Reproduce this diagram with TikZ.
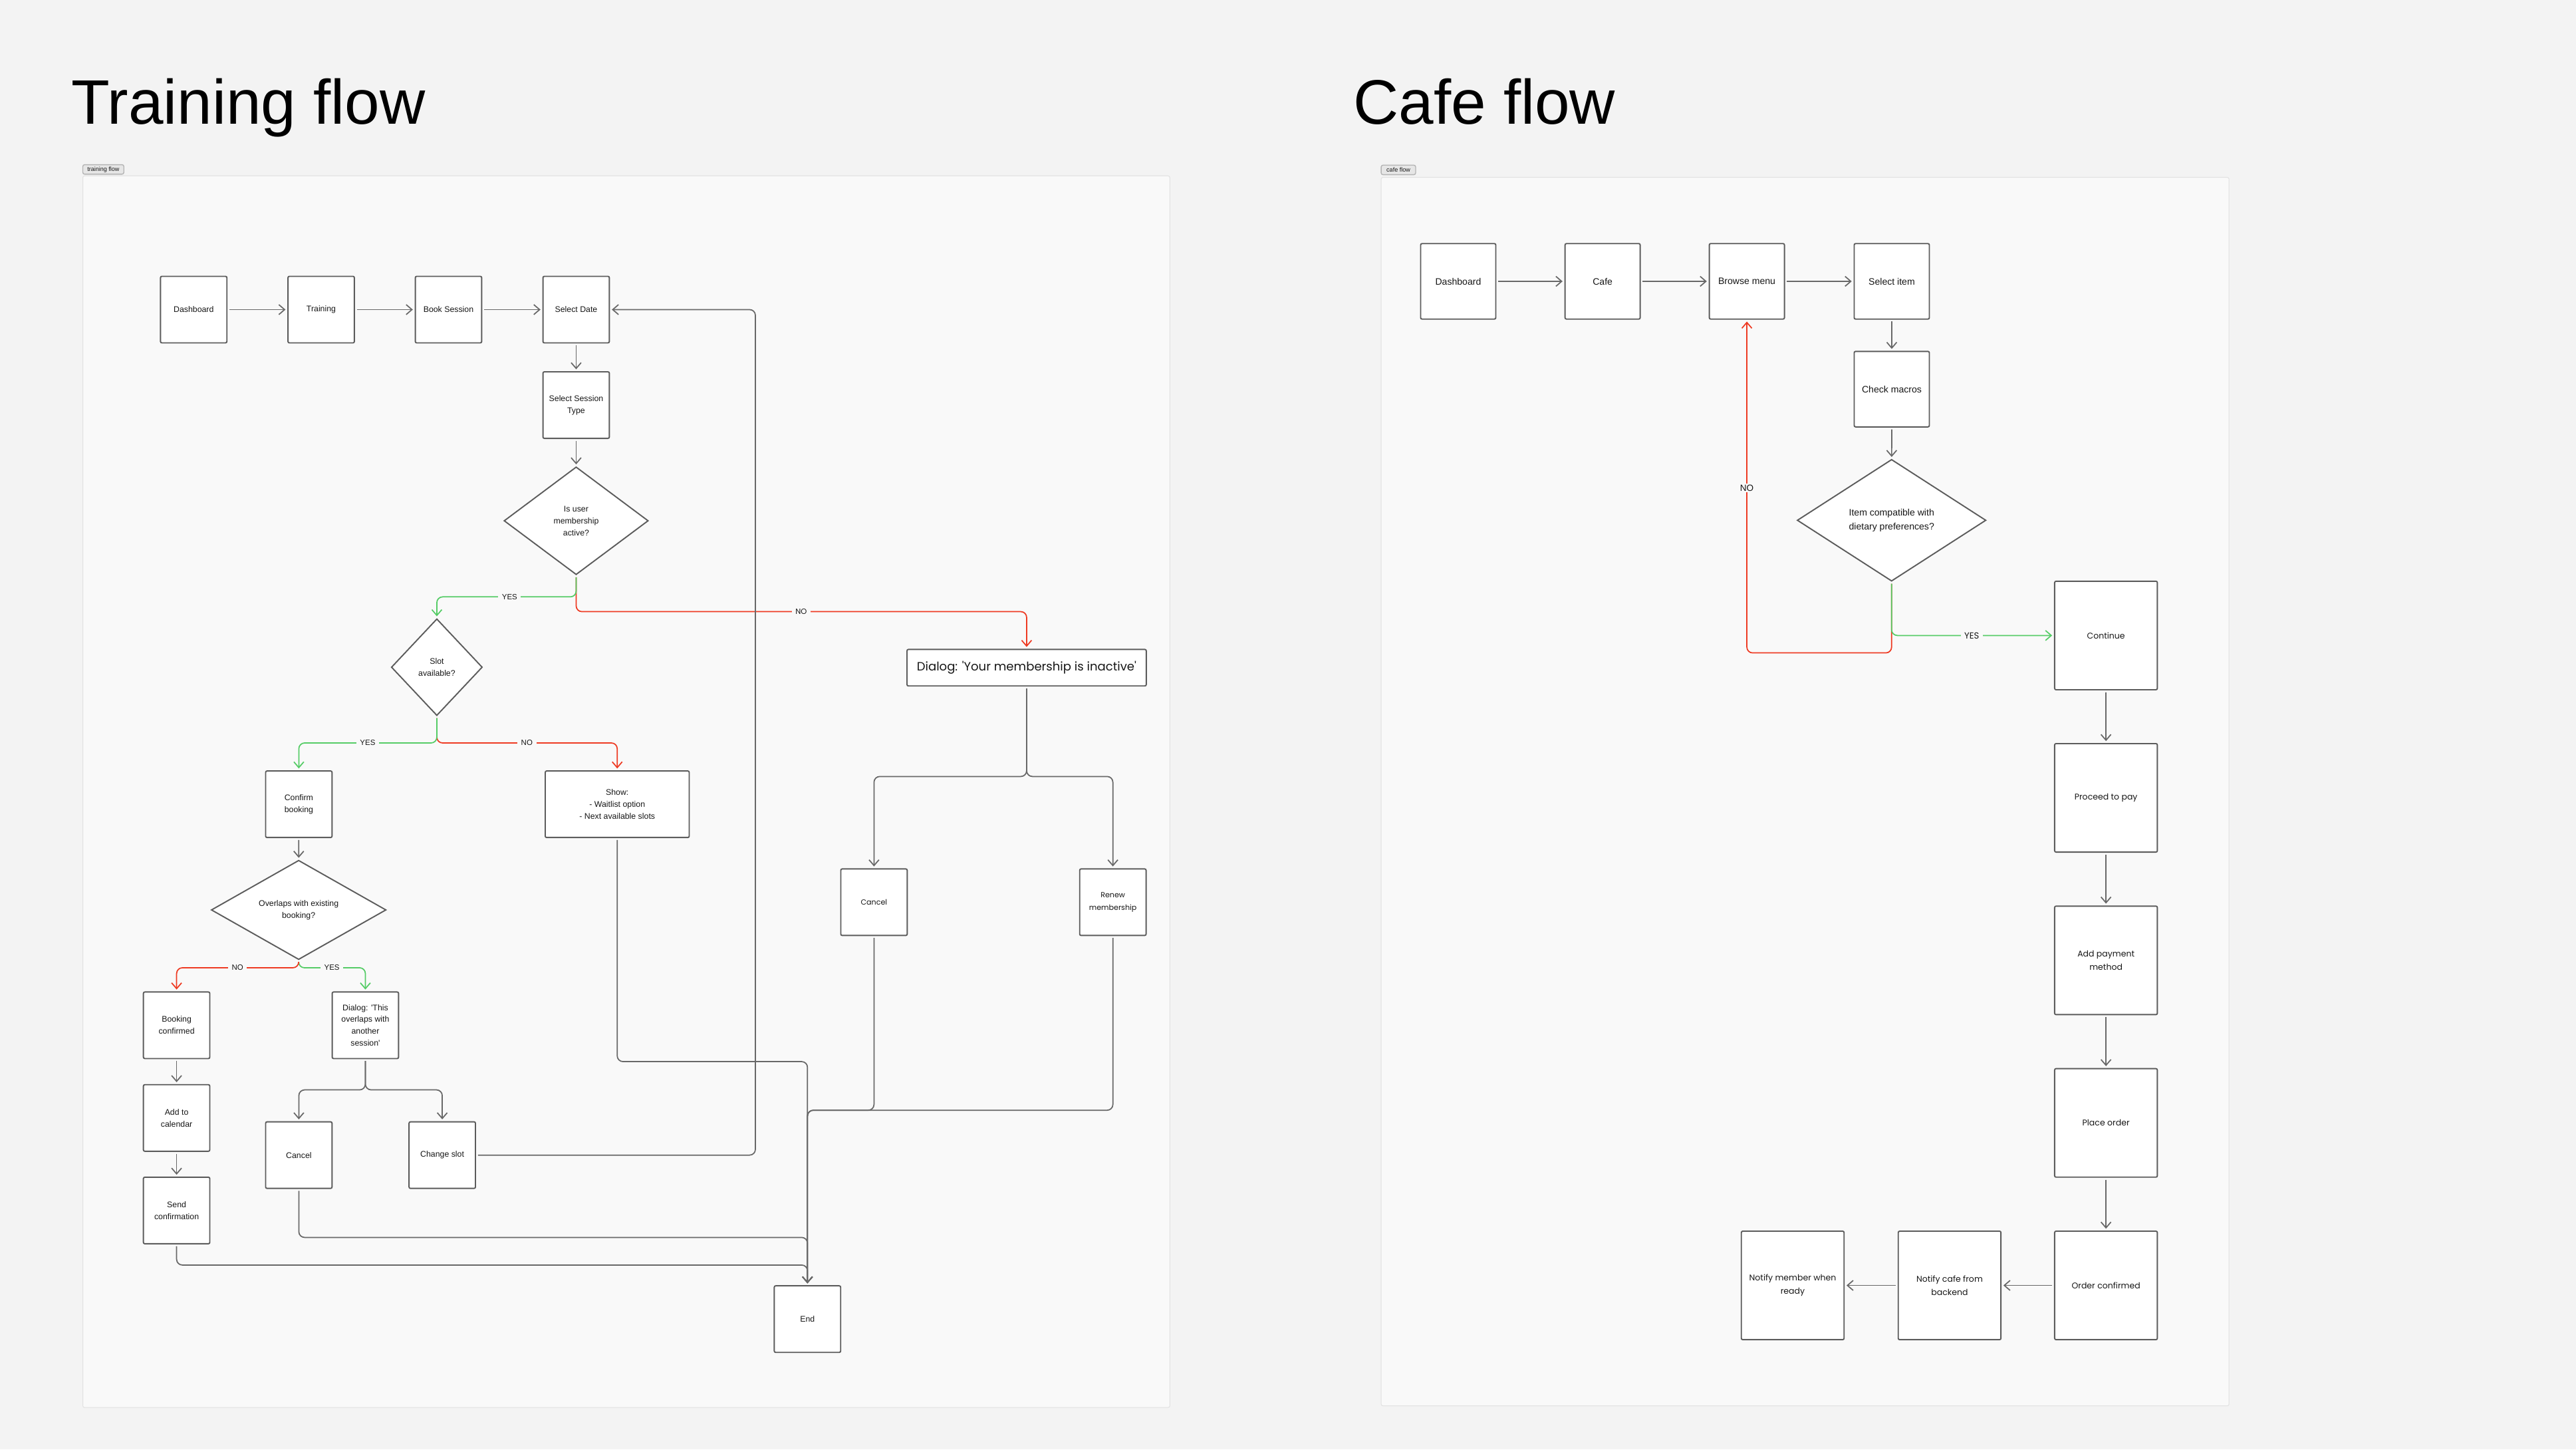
\documentclass[tikz,border=0pt]{standalone}
\usepackage{fontspec}
\setmainfont{Liberation Sans}
\newfontfamily\widefont{Poppins}
\usetikzlibrary{arrows.meta,shapes.geometric}
\definecolor{pagebg}{HTML}{F3F3F3}
\definecolor{panelbg}{HTML}{F9F9F9}
\definecolor{panelline}{HTML}{E1E1E1}
\definecolor{tagbg}{HTML}{E6E6E6}
\definecolor{boxline}{HTML}{5C5C5C}
\definecolor{wiregray}{HTML}{686868}
\definecolor{yesgreen}{HTML}{55CC66}
\definecolor{nored}{HTML}{EE3A22}
\definecolor{ink}{HTML}{161616}

\begin{document}
\begin{tikzpicture}[x=0.025cm,y=-0.025cm,
	card/.style={draw=boxline,fill=white,line width=0.55pt,rounded corners=0.6pt,inner sep=0pt,minimum width=1.01cm,minimum height=1.012cm,align=center,text=ink,font=\fontsize{3.55}{5.15}\selectfont},
	cafecard/.style={card,minimum width=1.143cm,minimum height=1.148cm,font=\fontsize{4.05}{5.9}\selectfont},
	paycard/.style={card,minimum width=1.5625cm,minimum height=1.65cm,font=\widefont\fontsize{3.6}{5.9}\selectfont},
	choice/.style={diamond,draw=boxline,fill=white,line width=0.55pt,inner sep=0pt,align=center,text=ink,font=\fontsize{3.55}{5.15}\selectfont},
	link/.style={draw=wiregray,line width=0.5pt,rounded corners=2.5pt,-{Straight Barb[length=2.5pt,width=4.3pt]},shorten >=0.8pt,shorten <=0.8pt},
	golink/.style={link},
	yeslink/.style={link,draw=yesgreen},
	nolink/.style={link,draw=nored},
	flowlabel/.style={fill=panelbg,inner xsep=1.6pt,inner ysep=0.6pt,text=ink,font=\fontsize{3.3}{4}\selectfont},
	boardtag/.style={draw=panelline!80!black,fill=tagbg,rounded corners=0.8pt,inner sep=0pt,minimum height=0.145cm,text=ink,font=\fontsize{2.6}{3}\selectfont},
	]
	\fill[pagebg] (0,0) rectangle (1568,882);
	\draw[panelline,fill=panelbg,line width=0.3pt,rounded corners=0.8pt] (50.4,107) rectangle (712.1,856.5);
	\draw[panelline,fill=panelbg,line width=0.3pt,rounded corners=0.8pt] (840.7,107.9) rectangle (1356.8,855.5);

	\node[anchor=base west,inner sep=0pt,font=\fontsize{27.2}{30}\selectfont] (traintitle) at (43.2,75.6) {Training flow};
	\node[anchor=base west,inner sep=0pt,font=\fontsize{27.2}{30}\selectfont] (cafetitle) at (823.5,75.6) {Cafe flow};
	\node[boardtag,minimum width=0.625cm] (traintag) at (62.9,103.1) {training flow};
	\node[boardtag,minimum width=0.525cm] (cafetag) at (851.2,103.4) {cafe flow};

	\node[card] (tdash) at (117.9,188.4) {Dashboard};
	\node[card] (train) at (195.5,188.4) {Training};
	\node[card] (book) at (273,188.4) {Book Session};
	\node[card] (date) at (350.7,188.4) {Select Date};
	\node[card] (stype) at (350.7,246.5) {Select Session\\Type};
	\node[choice,minimum width=2.195cm,minimum height=1.64cm] (member) at (350.7,316.9) {Is user\\membership\\active?};
	\node[choice,minimum width=1.385cm,minimum height=1.4725cm] (slot) at (265.9,406) {Slot\\available?};
	\node[card] (confirm) at (181.9,489.4) {Confirm\\booking};
	\node[card,minimum width=2.19cm] (show) at (375.7,489.4) {Show:\\- Waitlist option\\- Next available slots};
	\node[choice,minimum width=2.66cm,minimum height=1.0175cm] (overlap) at (181.8,553.7) {Overlaps with existing\\booking?};
	\node[card] (booked) at (107.5,623.9) {Booking\\confirmed};
	\node[card] (clash) at (222.4,623.9) {Dialog: \textquotesingle This\\overlaps with\\another\\session\textquotesingle};
	\node[card] (calendar) at (107.5,680.3) {Add to\\calendar};
	\node[card] (notify) at (107.5,736.6) {Send\\confirmation};
	\node[card] (drop) at (181.9,702.9) {Cancel};
	\node[card] (change) at (269.2,702.9) {Change slot};
	\node[card] (finish) at (491.5,802.7) {End};
	\node[card,minimum width=3.64cm,minimum height=0.555cm,font=\widefont\fontsize{5.2}{6}\selectfont] (inactive) at (624.9,406.3) {Dialog: \textquotesingle Your membership is inactive\textquotesingle};
	\node[card,font=\widefont\fontsize{3.2}{5.3}\selectfont] (quit) at (532,549) {Cancel};
	\node[card,font=\widefont\fontsize{3.2}{5.3}\selectfont] (renew) at (677.4,549) {Renew\\membership};

	\coordinate (noA) at (487.7,372.2);
	\coordinate (yesA) at (310.2,363.2);
	\coordinate (noB) at (320.7,452.1);
	\coordinate (yesB) at (223.8,452.1);
	\coordinate (noC) at (144.6,588.9);
	\coordinate (yesC) at (202,588.9);
	\coordinate (splitA) at (222.4,663.2);
	\coordinate (splitB) at (624.9,472.5);
	\coordinate (loopA) at (459.8,450);
	\coordinate (joinA) at (300,769.8);
	\coordinate (joinB) at (300,753);
	\coordinate (joinC) at (430,646);
	\coordinate (joinD) at (510,675.6);

	\draw[golink] (tdash) -- (train);
	\draw[golink] (train) -- (book);
	\draw[golink] (book) -- (date);
	\draw[golink] (date) -- (stype);
	\draw[golink] (stype) -- (member);
	\draw[nolink] (member.south) |- (noA) -| (inactive.north);
	\draw[yeslink] (member.south) |- (yesA) -| (slot.north);
	\draw[nolink] (slot.south) |- (noB) -| (show.north);
	\draw[yeslink] (slot.south) |- (yesB) -| (confirm.north);
	\draw[golink] (confirm) -- (overlap);
	\draw[yeslink] (overlap.south) |- (yesC) -| (clash.north);
	\draw[nolink] (overlap.south) |- (noC) -| (booked.north);
	\draw[golink] (booked) -- (calendar);
	\draw[golink] (calendar) -- (notify);
	\draw[golink] (clash.south) -- (splitA) -| (drop.north);
	\draw[golink] (clash.south) -- (splitA) -| (change.north);
	\draw[golink] (change.east) -| (loopA) |- (date.east);
	\draw[golink] (notify.south) |- (joinA) -| (finish.north);
	\draw[golink] (drop.south) |- (joinB) -| (finish.north);
	\draw[golink] (show.south) |- (joinC) -| (finish.north);
	\draw[golink] (inactive.south) -- (splitB) -| (quit.north);
	\draw[golink] (inactive.south) -- (splitB) -| (renew.north);
	\draw[golink] (quit.south) |- (joinD) -| (finish.north);
	\draw[golink] (renew.south) |- (joinD) -| (finish.north);

	\node[flowlabel,font=\widefont\fontsize{3.3}{4}\selectfont] (noAtext) at (noA) {NO};
	\node[flowlabel] (yesAtext) at (yesA) {YES};
	\node[flowlabel] (noBtext) at (noB) {NO};
	\node[flowlabel] (yesBtext) at (yesB) {YES};
	\node[flowlabel] (noCtext) at (noC) {NO};
	\node[flowlabel] (yesCtext) at (yesC) {YES};

	\node[cafecard] (cdash) at (887.6,171.2) {Dashboard};
	\node[cafecard] (cafe) at (975.5,171.2) {Cafe};
	\node[cafecard] (browse) at (1063.3,171.2) {Browse menu};
	\node[cafecard] (item) at (1151.5,171.2) {Select item};
	\node[cafecard] (macros) at (1151.5,236.8) {Check macros};
	\node[choice,minimum width=2.8725cm,minimum height=1.8525cm,font=\fontsize{4.05}{5.9}\selectfont] (diet) at (1151.4,316.6) {Item compatible with\\dietary preferences?};
	\node[paycard] (goon) at (1281.9,386.7) {Continue};
	\node[paycard] (pay) at (1281.9,485.5) {Proceed to pay};
	\node[paycard] (method) at (1281.9,584.4) {Add payment\\method};
	\node[paycard] (place) at (1281.9,683.3) {Place order};
	\node[paycard] (placed) at (1281.9,782.2) {Order confirmed};
	\node[paycard] (tellcafe) at (1186.7,782.2) {Notify cafe from\\backend};
	\node[paycard] (tellmember) at (1091.2,782.2) {Notify member when\\ready};

	\coordinate (noD) at (1100,397.3);

	\draw[golink] (cdash) -- (cafe);
	\draw[golink] (cafe) -- (browse);
	\draw[golink] (browse) -- (item);
	\draw[golink] (item) -- (macros);
	\draw[golink] (macros) -- (diet);
	\draw[nolink] (diet.south) |- (noD) -| (browse.south);
	\draw[yeslink] (diet.south) |- (goon.west);
	\draw[golink] (goon) -- (pay);
	\draw[golink] (pay) -- (method);
	\draw[golink] (method) -- (place);
	\draw[golink] (place) -- (placed);
	\draw[golink] (placed) -- (tellcafe);
	\draw[golink] (tellcafe) -- (tellmember);

	\node[flowlabel,font=\fontsize{3.9}{4.5}\selectfont] (noDtext) at (1063.3,296.9) {NO};
	\node[flowlabel,font=\widefont\fontsize{3.8}{4.5}\selectfont] (yesDtext) at (1200.2,386.7) {YES};
\end{tikzpicture}
\end{document}
